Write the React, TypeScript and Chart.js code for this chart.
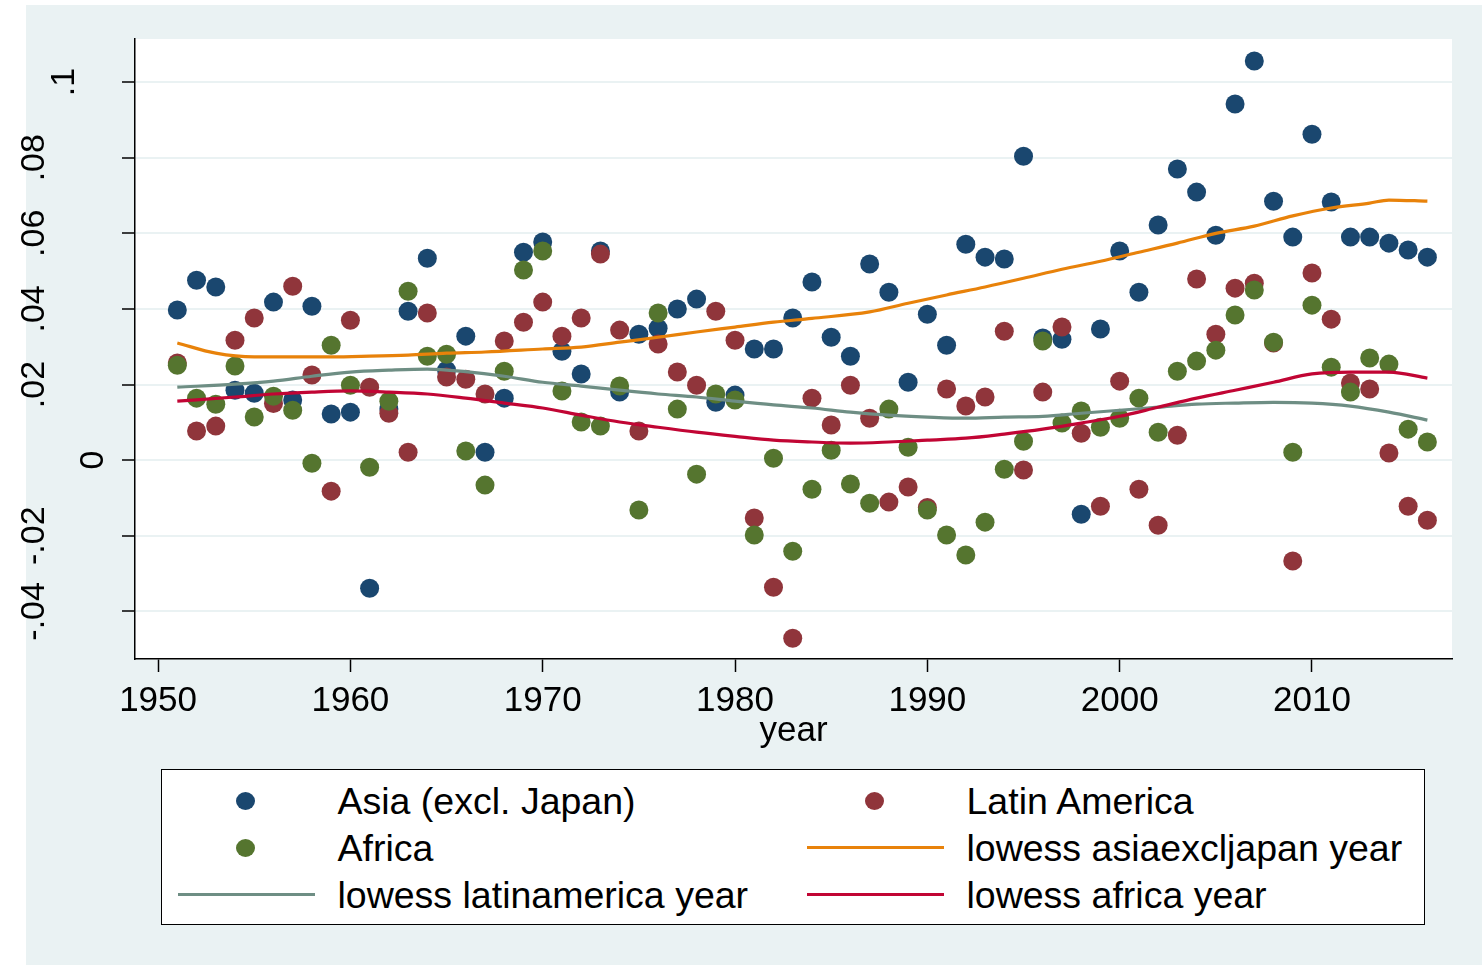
import React, { useEffect, useRef } from "react";
import { Chart, registerables } from "chart.js";

Chart.register(...registerables);

const years = [
  1951, 1952, 1953, 1954, 1955, 1956, 1957, 1958, 1959, 1960,
  1961, 1962, 1963, 1964, 1965, 1966, 1967, 1968, 1969, 1970,
  1971, 1972, 1973, 1974, 1975, 1976, 1977, 1978, 1979, 1980,
  1981, 1982, 1983, 1984, 1985, 1986, 1987, 1988, 1989, 1990,
  1991, 1992, 1993, 1994, 1995, 1996, 1997, 1998, 1999, 2000,
  2001, 2002, 2003, 2004, 2005, 2006, 2007, 2008, 2009, 2010,
  2011, 2012, 2013, 2014, 2015, 2016,
];

const asia = [
  0.0397, 0.0476, 0.0458, 0.0185, 0.0177, 0.0418, 0.0159, 0.0407, 0.0122, 0.0127,
  -0.0339, 0.0135, 0.0394, 0.0534, 0.0238, 0.0328, 0.0021, 0.0164, 0.055, 0.0577,
  0.0288, 0.0228, 0.0553, 0.018, 0.0333, 0.0349, 0.04, 0.0426, 0.0153, 0.0172,
  0.0294, 0.0294, 0.0376, 0.0471, 0.0325, 0.0275, 0.0519, 0.0444, 0.0206, 0.0386,
  0.0304, 0.0571, 0.0537, 0.0532, 0.0804, 0.0323, 0.032, -0.0143, 0.0347, 0.0553,
  0.0444, 0.0622, 0.077, 0.0709, 0.0595, 0.0942, 0.1056, 0.0685, 0.059, 0.0862,
  0.0683, 0.059, 0.059, 0.0574, 0.0556, 0.0537,
];

const latinAmerica = [
  0.0257, 0.0077, 0.009, 0.0317, 0.0376, 0.015, 0.046, 0.0225, -0.0082, 0.037,
  0.0193, 0.0124, 0.0021, 0.0389, 0.022, 0.0214, 0.0175, 0.0315, 0.0365, 0.0418,
  0.0328, 0.0376, 0.0545, 0.0344, 0.0077, 0.0307, 0.0233, 0.0198, 0.0394, 0.0317,
  -0.0153, -0.0336, -0.0471, 0.0164, 0.0093, 0.0198, 0.0111, -0.0111, -0.0071, -0.0125,
  0.0188, 0.0143, 0.0167, 0.0341, -0.0026, 0.018, 0.0352, 0.0071, -0.0122, 0.0209,
  -0.0077, -0.0172, 0.0066, 0.0479, 0.0333, 0.0455, 0.0468, 0.031, -0.0267, 0.0495,
  0.0373, 0.0204, 0.0188, 0.0019, -0.0122, -0.0159,
];

const africa = [
  0.0251, 0.0164, 0.0148, 0.0249, 0.0114, 0.0169, 0.0132, -0.0008, 0.0304, 0.0198,
  -0.0019, 0.0156, 0.0447, 0.0275, 0.028, 0.0024, -0.0066, 0.0235, 0.0503, 0.0553,
  0.0183, 0.0101, 0.009, 0.0196, -0.0132, 0.0389, 0.0135, -0.0037, 0.0175, 0.0159,
  -0.0198, 0.0005, -0.0241, -0.0077, 0.0026, -0.0063, -0.0114, 0.0135, 0.0034, -0.0132,
  -0.0198, -0.0251, -0.0164, -0.0024, 0.005, 0.0315, 0.0098, 0.013, 0.0087, 0.0111,
  0.0164, 0.0074, 0.0235, 0.0262, 0.0291, 0.0384, 0.045, 0.0312, 0.0021, 0.041,
  0.0246, 0.018, 0.027, 0.0254, 0.0082, 0.0048,
];

const lowessAsiaYears = [
  1951, 1953, 1955, 1957, 1959, 1961, 1963, 1965, 1967, 1970, 1972, 1974, 1976,
  1978, 1980, 1982, 1984, 1987, 1989, 1991, 1993, 1995, 1997, 1999, 2001, 2003,
  2005, 2007, 2009, 2011, 2013, 2014, 2016,
];
const lowessAsia = [
  0.031, 0.0283, 0.0273, 0.0273, 0.0273, 0.0275, 0.0278, 0.0283, 0.0286, 0.0294,
  0.0299, 0.0312, 0.0325, 0.0339, 0.0352, 0.0365, 0.0375, 0.0392, 0.0415, 0.0437,
  0.0458, 0.0481, 0.0505, 0.0526, 0.055, 0.0574, 0.06, 0.0619, 0.0646, 0.0667,
  0.068, 0.0688, 0.0685,
];

const lowessYears = [
  1951, 1954, 1956, 1958, 1960, 1962, 1964, 1966, 1968, 1970, 1972, 1974, 1976,
  1978, 1980, 1982, 1984, 1986, 1988, 1990, 1992, 1994, 1996, 1998, 2000, 2002,
  2004, 2006, 2008, 2010, 2012, 2014, 2016,
];
const lowessLatinAmerica = [
  0.0193, 0.0201, 0.0209, 0.0222, 0.0233, 0.0238, 0.0241, 0.0234, 0.0222, 0.0206,
  0.0196, 0.0185, 0.0175, 0.0167, 0.0156, 0.0146, 0.0138, 0.0127, 0.0119, 0.0114,
  0.0111, 0.0114, 0.0116, 0.0124, 0.0132, 0.014, 0.0148, 0.0151, 0.0153, 0.0151,
  0.0143, 0.0127, 0.0106,
];
const lowessAfrica = [
  0.0156, 0.0167, 0.0175, 0.018, 0.0183, 0.018, 0.0175, 0.0164, 0.0151, 0.0138,
  0.0119, 0.0101, 0.0087, 0.0074, 0.0063, 0.0053, 0.0048, 0.0045, 0.0048, 0.0053,
  0.0058, 0.0069, 0.0082, 0.0098, 0.0116, 0.014, 0.0164, 0.0185, 0.0206, 0.0228,
  0.0233, 0.0233, 0.0217,
];

const xTicks = [1950, 1960, 1970, 1980, 1990, 2000, 2010];
const xTickLabels = ["1950", "1960", "1970", "1980", "1990", "2000", "2010"];
const yTicks = [-0.04, -0.02, 0, 0.02, 0.04, 0.06, 0.08, 0.1];
const yTickLabels = ["-.04", "-.02", "0", ".02", ".04", ".06", ".08", ".1"];

const seriesLabels = [
  "Asia (excl. Japan)",
  "Latin America",
  "Africa",
  "lowess asiaexcljapan year",
  "lowess latinamerica year",
  "lowess africa year",
];
const seriesColors = ["#1a476f", "#90353b", "#55752f", "#e8820a", "#6e8e84", "#c10534"];

const FONT = '"Liberation Sans", Arial, Helvetica, sans-serif';

const zip = (xs: number[], ys: number[]) => xs.map((x, i) => ({ x, y: ys[i] }));

const stataPlugin = {
  id: "stataDecor",
  beforeDraw(chart: any) {
    const { ctx, chartArea: a } = chart;
    ctx.save();
    ctx.fillStyle = "#ffffff";
    ctx.fillRect(a.left, a.top, a.right - a.left, a.bottom - a.top);
    ctx.restore();
  },
  afterDraw(chart: any) {
    const { ctx, chartArea: a } = chart;
    const xs = chart.scales.x;
    const ys = chart.scales.y;
    ctx.save();
    ctx.fillStyle = "#000";
    ctx.textAlign = "center";
    ctx.textBaseline = "alphabetic";
    ctx.font = `35px ${FONT}`;
    xTicks.forEach((v, i) => {
      ctx.fillText(xTickLabels[i], xs.getPixelForValue(v), 711);
    });
    ctx.fillText("year", (a.left + a.right) / 2, 741);
    ctx.font = `34px ${FONT}`;
    yTicks.forEach((v, i) => {
      const lab = yTickLabels[i];
      const bx = lab.length >= 3 ? 44 : lab.length === 2 ? 74 : 103;
      ctx.save();
      ctx.translate(bx, ys.getPixelForValue(v));
      ctx.rotate(-Math.PI / 2);
      ctx.fillText(lab, 0, 0);
      ctx.restore();
    });
    ctx.restore();
  },
};

function ChartCanvas() {
  const ref = useRef<HTMLCanvasElement | null>(null);
  useEffect(() => {
    if (!ref.current) return;
    const scatterDs = (i: number, values: number[], order: number) => ({
      label: seriesLabels[i],
      data: zip(years, values),
      backgroundColor: seriesColors[i],
      borderColor: seriesColors[i],
      pointRadius: 9.5,
      pointBorderWidth: 0,
      pointHoverRadius: 9.5,
      showLine: false,
      order,
    });
    const lineDs = (i: number, xsArr: number[], values: number[], order: number) => ({
      label: seriesLabels[i],
      data: zip(xsArr, values),
      borderColor: seriesColors[i],
      backgroundColor: seriesColors[i],
      borderWidth: 3.2,
      pointRadius: 0,
      showLine: true,
      fill: false,
      cubicInterpolationMode: "monotone",
      order,
    });
    const chart = new Chart(ref.current, {
      type: "scatter",
      data: {
        datasets: [
          scatterDs(0, asia, 6),
          scatterDs(1, latinAmerica, 5),
          scatterDs(2, africa, 4),
          lineDs(3, lowessAsiaYears, lowessAsia, 3),
          lineDs(4, lowessYears, lowessLatinAmerica, 2),
          lineDs(5, lowessYears, lowessAfrica, 1),
        ] as any,
      },
      options: {
        animation: false,
        responsive: false,
        maintainAspectRatio: false,
        devicePixelRatio: 1,
        layout: { padding: { top: 39, right: 30, left: 0, bottom: 0 } },
        plugins: { legend: { display: false }, tooltip: { enabled: false } },
        events: [],
        scales: {
          x: {
            type: "linear",
            min: 1948.8,
            max: 2017.28,
            afterBuildTicks: (s: any) => {
              s.ticks = xTicks.map((v) => ({ value: v }));
            },
            afterFit: (s: any) => {
              s.height = 101;
            },
            ticks: { display: false },
            grid: {
              drawOnChartArea: false,
              drawTicks: true,
              tickLength: 13,
              tickColor: "#000",
              tickWidth: 1.5,
            },
            border: { display: true, color: "#000", width: 1.5 },
          },
          y: {
            type: "linear",
            min: -0.0526,
            max: 0.1114,
            afterBuildTicks: (s: any) => {
              s.ticks = yTicks.map((v) => ({ value: v }));
            },
            afterFit: (s: any) => {
              s.width = 135;
            },
            ticks: { display: false },
            grid: {
              drawOnChartArea: true,
              color: "#eaf2f3",
              lineWidth: 2,
              drawTicks: true,
              tickLength: 13,
              tickColor: "#000",
              tickWidth: 1.5,
            },
            border: { display: true, color: "#000", width: 1.5 },
          },
        },
      } as any,
      plugins: [stataPlugin],
    });
    return () => chart.destroy();
  }, []);
  return (
    <canvas
      ref={ref}
      width={1482}
      height={760}
      style={{ position: "absolute", left: 0, top: 0, width: 1482, height: 760 }}
    />
  );
}

const legendItems = [
  { series: 0, kind: "dot", col: 0, row: 0 },
  { series: 1, kind: "dot", col: 1, row: 0 },
  { series: 2, kind: "dot", col: 0, row: 1 },
  { series: 3, kind: "line", col: 1, row: 1 },
  { series: 4, kind: "line", col: 0, row: 2 },
  { series: 5, kind: "line", col: 1, row: 2 },
];

function Legend() {
  const rowY = [32, 79, 126];
  const colSym = [85, 714];
  const colLine = [17, 646];
  const colText = [177, 806];
  return (
    <div
      style={{
        position: "absolute",
        left: 161,
        top: 769,
        width: 1264,
        height: 156,
        boxSizing: "border-box",
        border: "1.5px solid #000",
        background: "#fff",
      }}
    >
      {legendItems.map((it, k) => {
        const cy = rowY[it.row] - 1.5;
        const color = seriesColors[it.series];
        return (
          <React.Fragment key={k}>
            {it.kind === "dot" ? (
              <div
                style={{
                  position: "absolute",
                  left: colSym[it.col] - 1.5 - 9.5,
                  top: cy - 9,
                  width: 19,
                  height: 18,
                  borderRadius: "50%",
                  background: color,
                }}
              />
            ) : (
              <div
                style={{
                  position: "absolute",
                  left: colLine[it.col] - 1.5,
                  top: cy - 1.5,
                  width: 137,
                  height: 3,
                  background: color,
                }}
              />
            )}
            <div
              style={{
                position: "absolute",
                left: colText[it.col] - 1.5,
                top: cy - 22,
                height: 44,
                lineHeight: "44px",
                fontFamily: FONT,
                fontSize: 37.5,
                color: "#000",
                whiteSpace: "nowrap",
              }}
            >
              {seriesLabels[it.series]}
            </div>
          </React.Fragment>
        );
      })}
    </div>
  );
}

export default function App() {
  return (
    <div
      style={{
        position: "absolute",
        left: 0,
        top: 0,
        width: 1482,
        height: 965,
        background: "#ffffff",
        overflow: "hidden",
      }}
    >
      <div
        style={{
          position: "absolute",
          left: 26,
          top: 5,
          width: 1456,
          height: 960,
          background: "#eaf2f3",
        }}
      />
      <ChartCanvas />
      <Legend />
    </div>
  );
}
